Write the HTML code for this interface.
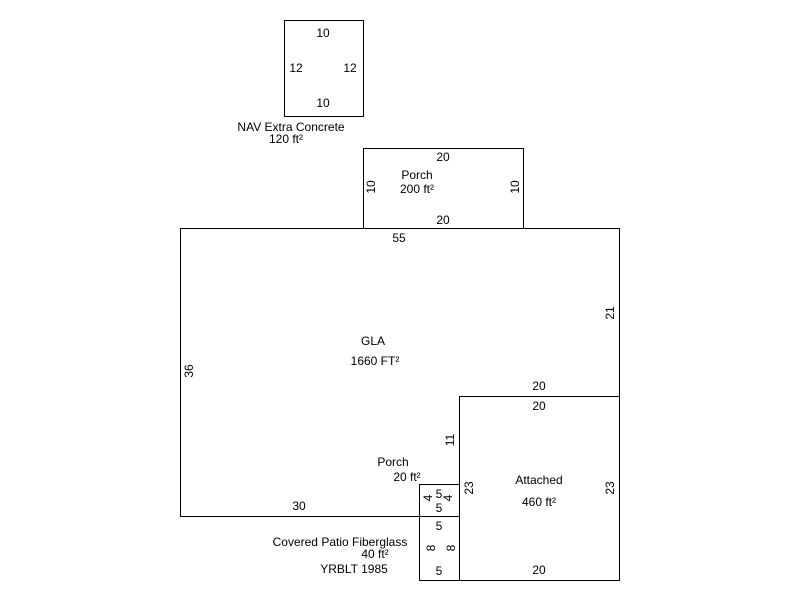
<!DOCTYPE html>
<html><head><meta charset="utf-8"><style>
html,body{margin:0;padding:0;background:#fff;}
svg{display:block;}
text{font-family:"Liberation Sans",Arial,sans-serif;font-size:12px;fill:#000;}
</style></head><body>
<svg width="800" height="600" viewBox="0 0 800 600" xmlns="http://www.w3.org/2000/svg">
<g fill="none" stroke="#000" stroke-width="1">
<rect x="284.5" y="20.5" width="79" height="96"/>
<rect x="363.5" y="148.5" width="160" height="80"/>
<polyline points="459.5,484.5 459.5,396.5 619.5,396.5 619.5,228.5 180.5,228.5 180.5,516.5 419.5,516.5"/>
<rect x="459.5" y="396.5" width="160" height="184"/>
<rect x="419.5" y="484.5" width="40" height="32"/>
<rect x="419.5" y="516.5" width="40" height="64"/>
</g>
<g text-anchor="middle">
<text x="323" y="37">10</text>
<text x="323" y="107">10</text>
<text x="296" y="72">12</text>
<text x="350" y="72">12</text>
<text x="291" y="131">NAV Extra Concrete</text>
<text x="286" y="143">120 ft²</text>

<text x="443" y="161">20</text>
<text x="443" y="224">20</text>
<text x="417" y="179">Porch</text>
<text x="417" y="193">200 ft²</text>
<text transform="translate(375,187) rotate(-90)">10</text>
<text transform="translate(519,187) rotate(-90)">10</text>

<text x="399" y="242">55</text>
<text transform="translate(614,313) rotate(-90)">21</text>
<text transform="translate(193,371) rotate(-90)">36</text>
<text x="373" y="345">GLA</text>
<text x="375" y="365">1660 FT²</text>
<text x="539" y="390">20</text>
<text x="299" y="510">30</text>
<text transform="translate(454,440) rotate(-90)">11</text>

<text x="539" y="410">20</text>
<text x="539" y="484">Attached</text>
<text x="539" y="506">460 ft²</text>
<text x="539" y="574">20</text>
<text transform="translate(473,488) rotate(-90)">23</text>
<text transform="translate(614,488) rotate(-90)">23</text>

<text x="393" y="466">Porch</text>
<text x="407" y="481">20 ft²</text>
<text x="439" y="498">5</text>
<text x="439" y="512">5</text>
<text transform="translate(432,498) rotate(-90)">4</text>
<text transform="translate(452,498) rotate(-90)">4</text>

<text x="439" y="530">5</text>
<text x="439" y="575">5</text>
<text transform="translate(435,548) rotate(-90)">8</text>
<text transform="translate(455,548) rotate(-90)">8</text>
<text x="340" y="546">Covered Patio Fiberglass</text>
<text x="375" y="558">40 ft²</text>
<text x="354" y="573">YRBLT 1985</text>
</g>
</svg>
</body></html>
